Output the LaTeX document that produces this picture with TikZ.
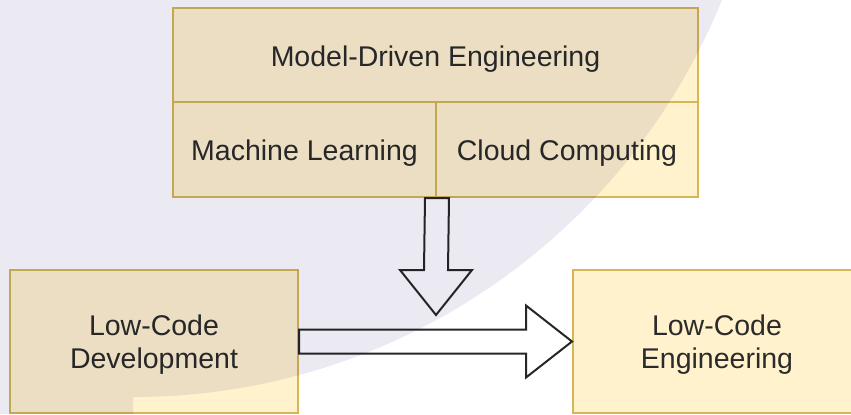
\documentclass[tikz,border=0pt]{standalone}
\usepackage{fontspec}
\setmainfont{Liberation Sans}
\usetikzlibrary{calc}
\definecolor{boxfill}{HTML}{FFF2CC}
\definecolor{boxline}{HTML}{D6B656}
\definecolor{wmark}{HTML}{EBEAF3}
\definecolor{txt}{HTML}{2B2B2B}
\tikzset{
  box/.style={draw=boxline, fill=boxfill, line width=1pt, text=txt, align=center,
    inner sep=0pt, font=\fontsize{14.25}{16.5}\selectfont, text height=14pt, text depth=3pt},
  twoline/.style={text height=30.2pt, text depth=3pt},
  blockarrow/.style={draw=black!85, fill=white, line width=1pt, line join=miter}
}
\begin{document}
\begin{tikzpicture}[x=0.5pt, y=0.5pt]
  \useasboundingbox (0,0) rectangle (851,414);
  \clip (0,0) rectangle (851,414);

  % Top block
  \node[box, minimum width=262.5pt, minimum height=47pt] (mde) at (435.5,359) {Model-Driven Engineering};
  \node[box, minimum width=131.5pt, minimum height=47.5pt] (ml) at (304.5,264.5) {Machine Learning};
  \node[box, minimum width=131pt, minimum height=47.5pt] (cc) at (567,264.5) {Cloud Computing};

  % Bottom blocks
  \node[box, twoline, minimum width=144pt, minimum height=71.5pt] (lcd) at (154,72.5) {Low-Code\\Development};
  \node[box, twoline, minimum width=144pt, minimum height=71.5pt] (lce) at (717,72.5) {Low-Code\\Engineering};

  \coordinate (join) at (436,99);

  % Block arrows
  \draw[blockarrow] ($(ml.south east)+(-12,0)$) -- ($(ml.south east)+(12,0)$)
    -- ($(join)+(12,45)$) -- ($(join)+(36,45)$) -- (join)
    -- ($(join)+(-36,45)$) -- ($(join)+(-12,45)$) -- cycle;
  \draw[blockarrow] ($(lcd.east)+(0,12)$) -- ($(lce.west)+(-46,12)$)
    -- ($(lce.west)+(-46,36)$) -- (lce.west) -- ($(lce.west)+(-46,-36)$)
    -- ($(lce.west)+(-46,-12)$) -- ($(lcd.east)+(0,-12)$) -- cycle;

  % Background watermark
  \fill[wmark, blend mode=multiply] (0,0) -- (133,0) -- (133,17)
    arc[start angle=-90, end angle=0, radius=317.5pt] -- (0,652) -- cycle;
\end{tikzpicture}
\end{document}
